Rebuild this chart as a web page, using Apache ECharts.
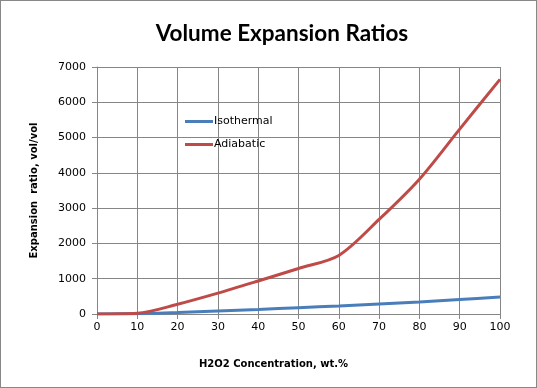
<!DOCTYPE html>
<html><head><meta charset="utf-8">
<script src="https://cdn.jsdelivr.net/npm/echarts@6/dist/echarts.min.js"></script>
<style>html,body{margin:0;padding:0;background:#fff}#c{width:535px;height:386px;border:1px solid #888}</style>
</head><body><div id="c"></div>
<script>
var concentration = [0, 10, 20, 30, 40, 50, 60, 70, 80, 90, 100];
var isothermal = [0, 10, 40, 85, 130, 180, 230, 285, 340, 410, 480];
var adiabatic = [0, 20, 275, 590, 935, 1290, 1660, 2680, 3820, 5240, 6650];
var yTicks = [0, 1000, 2000, 3000, 4000, 5000, 6000, 7000];

function pairs(xs, ys){ return xs.map(function(x,i){return [x, ys[i]];}); }
var chart = echarts.init(document.getElementById('c'));
var font = 'Verdana, "DejaVu Sans", sans-serif';
chart.setOption({
  animation:false,
  backgroundColor:'#fff',
  title:{text:'Volume Expansion Ratios', left:276, top:16, textAlign:'center',
    textStyle:{fontFamily:'Lato, "DejaVu Sans", sans-serif', fontSize:22.5, fontWeight:'bold', color:'#000'}},
  grid:{left:96, right:36, top:66, bottom:73},
  legend:{orient:'vertical', left:184, top:115, padding:0, itemGap:12, itemWidth:28, itemHeight:11,
    textStyle:{fontFamily:font, fontSize:11, color:'#000', padding:[0,0,0,-4]},
    data:[{name:'Isothermal', icon:'path://M0,4h28v3h-28z'},{name:'Adiabatic', icon:'path://M0,4h28v3h-28z'}]},
  xAxis:{type:'value', min:0, max:100, interval:10,
    name:'H2O2 Concentration, wt.%', nameLocation:'middle', nameGap:45,
    nameTextStyle:{fontFamily:font, fontSize:10, fontWeight:'bold', color:'#000', padding:[0,50,0,0]},
    axisLine:{lineStyle:{color:'#868686'}}, axisTick:{show:true, length:5, lineStyle:{color:'#868686'}},
    axisLabel:{fontFamily:font, fontSize:11, color:'#000', margin:8},
    splitLine:{show:true, lineStyle:{color:'#868686', width:1}}},
  yAxis:{type:'value', min:0, max:7000, interval:1000,
    name:'Expansion  ratio, vol/vol', nameLocation:'middle', nameGap:58,
    nameTextStyle:{fontFamily:font, fontSize:10, fontWeight:'bold', color:'#000'},
    axisLine:{show:true, lineStyle:{color:'#868686'}}, axisTick:{show:true, length:5, lineStyle:{color:'#868686'}},
    axisLabel:{fontFamily:font, fontSize:11, color:'#000', margin:11,
      formatter:function(v){return yTicks.indexOf(v)>=0 ? String(v) : '';}},
    splitLine:{show:true, lineStyle:{color:'#868686', width:1}}},
  series:[
    {name:'Isothermal', type:'line', smooth:0.3, showSymbol:false, data:pairs(concentration, isothermal),
      lineStyle:{color:'#4A7EBB', width:3}, itemStyle:{color:'#4A7EBB'}},
    {name:'Adiabatic', type:'line', smooth:0.3, showSymbol:false, data:pairs(concentration, adiabatic),
      lineStyle:{color:'#BE4B48', width:3}, itemStyle:{color:'#BE4B48'}}
  ]
});
</script></body></html>
